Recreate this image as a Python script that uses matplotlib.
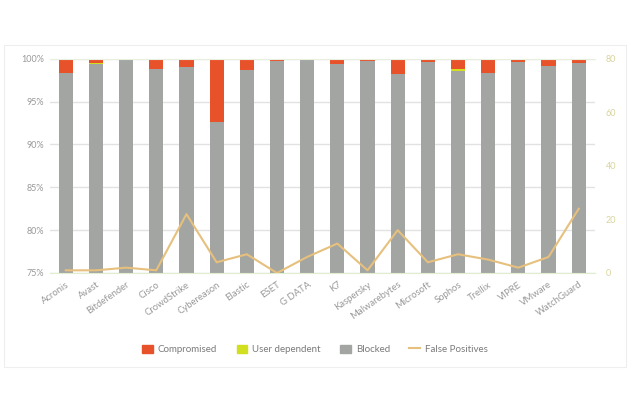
import matplotlib

matplotlib.use("Agg")
import matplotlib.pyplot as plt
from matplotlib.lines import Line2D
from matplotlib.patches import Patch, Rectangle

vendors = [
    "Acronis", "Avast", "Bitdefender", "Cisco", "CrowdStrike", "Cybereason",
    "Elastic", "ESET", "G DATA", "K7", "Kaspersky", "Malwarebytes",
    "Microsoft", "Sophos", "Trellix", "VIPRE", "VMware", "WatchGuard",
]
blocked = [98.4, 99.4, 100.0, 98.8, 99.1, 92.6, 98.75, 99.7, 100.0, 99.45,
           99.7, 98.2, 99.6, 98.55, 98.4, 99.6, 99.15, 99.5]
user_dependent = [0.0, 0.1, 0.0, 0.0, 0.0, 0.0, 0.0, 0.0, 0.0, 0.0,
                  0.0, 0.0, 0.0, 0.3, 0.0, 0.0, 0.0, 0.0]
compromised = [1.6, 0.5, 0.0, 1.2, 0.9, 7.4, 1.25, 0.3, 0.0, 0.55,
               0.3, 1.8, 0.4, 1.15, 1.6, 0.4, 0.85, 0.5]
false_positives = [1, 1, 2, 1, 22, 4, 7, 0, 6, 11, 1, 16, 4, 7, 5, 2, 6, 24]

RED = "#e8522a"
YELLOW = "#d2df1e"
GREY = "#a3a5a3"
LINE = "#e6c07c"
TEXT = "#999999"

plt.rcParams["font.family"] = ["Lato", "DejaVu Sans"]

fig = plt.figure(figsize=(6.3, 4.2), dpi=100)
fig.patches.append(Rectangle((0.006, 0.126), 0.988, 0.767, transform=fig.transFigure,
                             fill=False, edgecolor="#eeeeee", linewidth=0.8))

ax = fig.add_axes([0.079, 0.35, 0.865, 0.51])
x = list(range(len(vendors)))
width = 0.47

ax.bar(x, blocked, width, bottom=0, color=GREY, zorder=2)
ud_bottom = blocked
ax.bar(x, user_dependent, width, bottom=ud_bottom, color=YELLOW, zorder=2)
cp_bottom = [b + u for b, u in zip(blocked, user_dependent)]
ax.bar(x, compromised, width, bottom=cp_bottom, color=RED, zorder=2)

ax.set_ylim(75, 100)
ax.set_xlim(-0.53, len(vendors) - 0.47)
ax.set_yticks([75, 80, 85, 90, 95, 100])
ax.set_yticklabels([f"{v}%" for v in [75, 80, 85, 90, 95, 100]])
ax.yaxis.grid(True, color="#e2e2e2", linewidth=1, zorder=0)
ax.set_axisbelow(True)
ax.tick_params(axis="y", length=0, labelsize=6.5, labelcolor=TEXT, pad=4)
ax.set_xticks(x)
ax.set_xticklabels(vendors, rotation=35, ha="right", rotation_mode="anchor")
ax.tick_params(axis="x", length=0, labelsize=6.8, labelcolor=TEXT, pad=5)
for side in ["left", "right"]:
    ax.spines[side].set_visible(False)
ax.spines["top"].set_color("#e6f0dc")
ax.spines["bottom"].set_color("#dfeecd")

ax2 = ax.twinx()
ax2.plot(x, false_positives, color=LINE, linewidth=1.5, zorder=3)
ax2.set_ylim(0, 80)
ax2.set_yticks([0, 20, 40, 60, 80])
ax2.tick_params(axis="y", length=0, labelsize=6.5, labelcolor="#d9d49c", pad=8)
for side in ["left", "right", "top", "bottom"]:
    ax2.spines[side].set_visible(False)

handles = [
    Patch(color=RED, label="Compromised"),
    Patch(color=YELLOW, label="User dependent"),
    Patch(color=GREY, label="Blocked"),
    Line2D([0], [0], color=LINE, linewidth=1.5, label="False Positives"),
]
fig.legend(handles=handles, loc="center", bbox_to_anchor=(0.5, 0.168), ncol=4,
           frameon=False, fontsize=7, labelcolor="#7a7a7a", handlelength=1.1,
           handleheight=1.0, columnspacing=2.0, handletextpad=0.5)

fig.savefig("out.png", dpi=100)
